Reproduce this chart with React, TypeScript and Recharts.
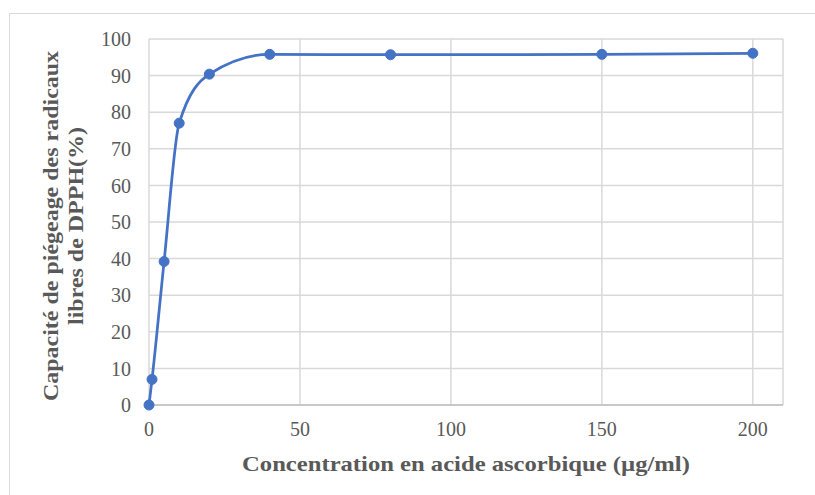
import { LineChart, Line, XAxis, YAxis, CartesianGrid } from "recharts";

const concentrations = [0, 1, 5, 10, 20, 40, 80, 150, 200];
const scavenging = [0, 7, 39.2, 77, 90.4, 95.8, 95.7, 95.8, 96.1];
const xTicks = [0, 50, 100, 150, 200];
const yTicks = [0, 10, 20, 30, 40, 50, 60, 70, 80, 90, 100];

const xTitle = "Concentration en acide ascorbique (µg/ml)";
const yTitleLines = ["Capacité de piégeage des radicaux", "libres de DPPH(%)"];

const data = concentrations.map((c, i) => ({ c, v: scavenging[i] }));

// Cambria is not installed; Liberation Serif is narrower, so titles get stretched a bit
const font = "'Liberation Serif', 'Times New Roman', serif";
const grey = "#595959";

function YTitle(props: any) {
  const vb = props.viewBox || { x: 0, y: 0, width: 0, height: 0 };
  const cy = vb.y + vb.height / 2 + 4;
  return (
    <g>
      {yTitleLines.map((line, i) => {
        const x = 58 + i * 25;
        return (
          <text
            key={i}
            x={0}
            y={0}
            transform={`translate(${x}, ${cy}) rotate(-90) scale(1.09, 1)`}
            textAnchor="middle"
            fontFamily={font}
            fontWeight="bold"
            fontSize={22}
            fill={grey}
          >
            {line}
          </text>
        );
      })}
    </g>
  );
}

function XTitle(props: any) {
  const vb = props.viewBox || { x: 0, y: 0, width: 0, height: 0 };
  const cx = vb.x + vb.width / 2;
  return (
    <text
      x={0}
      y={0}
      transform={`translate(${cx}, 471) scale(1.12, 1)`}
      textAnchor="middle"
      fontFamily={font}
      fontWeight="bold"
      fontSize={22}
      fill={grey}
    >
      {xTitle}
    </text>
  );
}

export default function App() {
  return (
    <div style={{ position: "absolute", left: 0, top: 0, width: 815, height: 495, overflow: "hidden", background: "#fff" }}>
      <div
        style={{
          position: "absolute",
          left: 9,
          top: 13,
          width: 830,
          height: 520,
          border: "1.5px solid #d9d9d9",
          boxSizing: "border-box",
        }}
      />
      <div style={{ position: "absolute", left: 0, top: 0 }}>
        <LineChart width={815} height={495} data={data} margin={{ top: 39, right: 32, bottom: 30, left: 0 }}>
          <CartesianGrid stroke="#d9d9d9" strokeWidth={1.5} />
          <XAxis
            dataKey="c"
            type="number"
            domain={[0, 210]}
            ticks={xTicks}
            height={60}
            tickLine={false}
            tickSize={0}
            tickMargin={17}
            axisLine={{ stroke: "#bfbfbf", strokeWidth: 1.5 }}
            tick={{ fill: grey, fontFamily: font, fontSize: 20 }}
            label={{ content: XTitle }}
          />
          <YAxis
            type="number"
            domain={[0, 100]}
            ticks={yTicks}
            width={149}
            tickLine={false}
            tickSize={0}
            tickMargin={18}
            axisLine={false}
            tick={{ fill: grey, fontFamily: font, fontSize: 20 }}
            label={{ content: YTitle }}
          />
          <Line
            dataKey="v"
            type="monotone"
            stroke="#4472C4"
            strokeWidth={2.75}
            dot={{ r: 5, fill: "#4472C4", stroke: "#4472C4", strokeWidth: 1 }}
            isAnimationActive={false}
          />
        </LineChart>
      </div>
    </div>
  );
}
